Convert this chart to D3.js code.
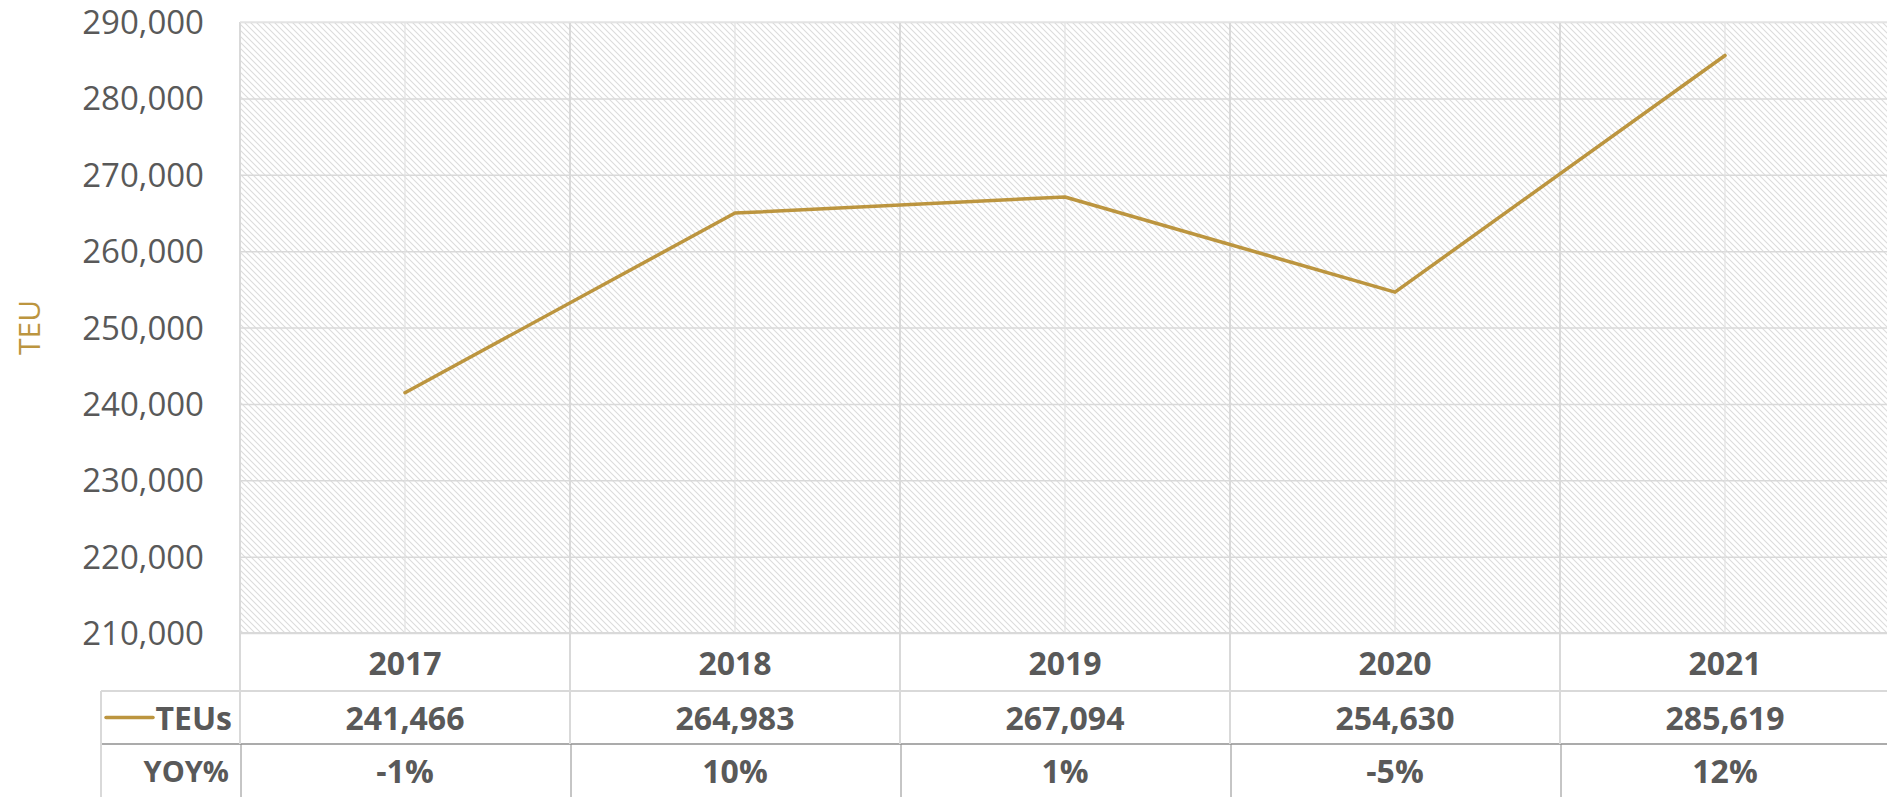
<!DOCTYPE html>
<html>
<head>
<meta charset="utf-8">
<script src="https://cdn.jsdelivr.net/npm/d3@7"></script>
<style>
    body { margin: 0; background: #fff; }
    svg { display: block; font-family: 'Open Sans', sans-serif; }
</style>
</head>
<body>
<div id="chart"></div>
<script>
//DATA
const years = ['2017', '2018', '2019', '2020', '2021'];
const teus = [241466, 264983, 267094, 254630, 285619];
const yoy = ['-1%', '10%', '1%', '-5%', '12%'];
const yTicks = [210000, 220000, 230000, 240000, 250000, 260000, 270000, 280000, 290000];
const seriesName = 'TEUs';
const rowName = 'YOY%';
const axisTitle = 'TEU';

//SIZES
const width = 1887;
const height = 797;
const plotLeft = 240;
const plotRight = 1890;
const plotTop = 22;
const plotBottom = 633;
const rowTeus = 691;
const rowYoy = 744;
const tableLeft = 101;

const gold = '#BC953F';
const textColor = '#595959';
const gridColor = '#D9D9D9';

const svg = d3.select('#chart').append('svg')
    .attr('width', width)
    .attr('height', height);

//SCALES
const x = d3.scaleBand().domain(years).range([plotLeft, plotRight]);
const y = d3.scaleLinear().domain([yTicks[0], yTicks[yTicks.length - 1]]).range([plotBottom, plotTop]);
const cx = d => x(d) + x.bandwidth() / 2;

//HATCH PATTERN
const pattern = svg.append('defs').append('pattern')
    .attr('id', 'hatch')
    .attr('patternUnits', 'userSpaceOnUse')
    .attr('width', 6)
    .attr('height', 6);

pattern.append('path')
    .attr('d', 'M0,0 L6,6 M-1,5 L1,7 M5,-1 L7,1')
    .attr('stroke', '#DCDCDC')
    .attr('stroke-width', 1.1);

svg.append('rect')
    .attr('x', plotLeft)
    .attr('y', plotTop)
    .attr('width', plotRight - plotLeft)
    .attr('height', plotBottom - plotTop)
    .attr('fill', 'url(#hatch)');

//GRIDLINES
svg.append('g')
    .attr('transform', `translate(${plotLeft},0)`)
    .call(d3.axisLeft(y).tickValues(yTicks).tickSize(-(plotRight - plotLeft)).tickFormat(''))
    .call(g => g.select('.domain').remove())
    .call(g => g.selectAll('line').attr('stroke', gridColor).attr('stroke-width', 1.5));

svg.append('g')
    .selectAll('line')
    .data(years)
    .join('line')
    .attr('x1', d => cx(d))
    .attr('x2', d => cx(d))
    .attr('y1', plotTop)
    .attr('y2', plotBottom)
    .attr('stroke', '#E2E2E2')
    .attr('stroke-width', 1.2);

//Y AXIS LABELS
svg.append('g')
    .attr('transform', `translate(${plotLeft},1)`)
    .call(d3.axisLeft(y).tickValues(yTicks).tickSize(0).tickPadding(36).tickFormat(d3.format(',')))
    .call(g => g.select('.domain').remove())
    .call(g => g.selectAll('text')
        .attr('fill', textColor)
        .style('font-family', "'Open Sans', sans-serif")
        .style('font-size', '33px'));

svg.append('text')
    .attr('transform', `translate(40,${(plotTop + plotBottom) / 2}) rotate(-90)`)
    .attr('text-anchor', 'middle')
    .attr('fill', gold)
    .style('font-size', '30px')
    .text(axisTitle);

//TABLE LINES
const table = svg.append('g');

table.append('line')
    .attr('x1', plotLeft).attr('x2', plotRight)
    .attr('y1', plotBottom).attr('y2', plotBottom)
    .attr('stroke', gridColor).attr('stroke-width', 2);

table.append('line')
    .attr('x1', tableLeft).attr('x2', plotRight)
    .attr('y1', rowTeus).attr('y2', rowTeus)
    .attr('stroke', gridColor).attr('stroke-width', 2);

table.append('line')
    .attr('x1', tableLeft).attr('x2', plotRight)
    .attr('y1', rowYoy).attr('y2', rowYoy)
    .attr('stroke', '#ABABAB').attr('stroke-width', 2);

table.append('line')
    .attr('x1', tableLeft).attr('x2', tableLeft)
    .attr('y1', rowTeus).attr('y2', height)
    .attr('stroke', gridColor).attr('stroke-width', 2);

const borders = years.map(d => x(d)).concat([plotRight]);

table.selectAll('.col-border')
    .data(borders)
    .join('line')
    .attr('class', 'col-border')
    .attr('x1', d => d).attr('x2', d => d)
    .attr('y1', plotTop).attr('y2', rowYoy)
    .attr('stroke', gridColor).attr('stroke-width', 2);

table.selectAll('.yoy-border')
    .data(borders)
    .join('line')
    .attr('class', 'yoy-border')
    .attr('x1', d => d + 1).attr('x2', d => d + 1)
    .attr('y1', rowYoy).attr('y2', height)
    .attr('stroke', '#8C8C8C').attr('stroke-width', 1);

svg.append('line')
    .attr('x1', plotLeft).attr('x2', plotRight)
    .attr('y1', plotTop).attr('y2', plotTop)
    .attr('stroke', '#E6E6E6').attr('stroke-width', 1.5);

//TABLE TEXT
const cellText = (values, rowY) => {
    table.append('g')
        .selectAll('text')
        .data(values)
        .join('text')
        .attr('x', (d, i) => cx(years[i]))
        .attr('y', rowY)
        .attr('text-anchor', 'middle')
        .attr('dominant-baseline', 'central')
        .attr('fill', textColor)
        .style('font-size', '32px')
        .style('font-weight', 'bold')
        .text(d => d);
}

cellText(years, (plotBottom + rowTeus) / 2);
cellText(teus.map(d3.format(',')), (rowTeus + rowYoy) / 2);
cellText(yoy, (rowYoy + height) / 2);

table.append('text')
    .attr('x', 232)
    .attr('y', (rowTeus + rowYoy) / 2)
    .attr('text-anchor', 'end')
    .attr('dominant-baseline', 'central')
    .attr('fill', textColor)
    .style('font-size', '32px')
    .style('font-weight', 'bold')
    .text(seriesName);

table.append('line')
    .attr('x1', 106).attr('x2', 153)
    .attr('y1', (rowTeus + rowYoy) / 2).attr('y2', (rowTeus + rowYoy) / 2)
    .attr('stroke', gold).attr('stroke-width', 3.5)
    .attr('stroke-linecap', 'round');

table.append('text')
    .attr('x', 229)
    .attr('y', (rowYoy + height) / 2)
    .attr('text-anchor', 'end')
    .attr('dominant-baseline', 'central')
    .attr('fill', textColor)
    .style('font-size', '29px')
    .style('font-weight', 'bold')
    .text(rowName);

//LINE
const line = d3.line()
    .x((d, i) => cx(years[i]))
    .y(d => y(d));

svg.append('path')
    .datum(teus)
    .attr('d', line)
    .attr('fill', 'none')
    .attr('stroke', gold)
    .attr('stroke-width', 3.5)
    .attr('stroke-linecap', 'round')
    .attr('stroke-linejoin', 'round');
</script>
</body>
</html>
